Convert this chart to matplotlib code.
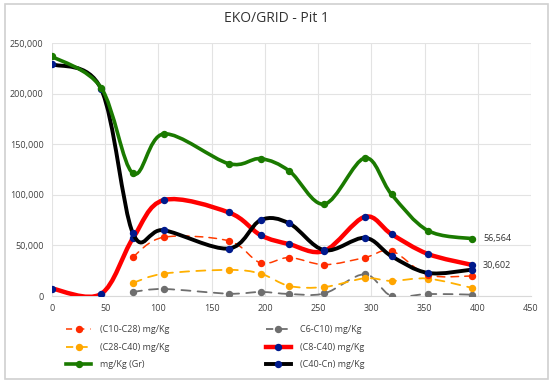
import matplotlib
matplotlib.use("Agg")
import matplotlib.pyplot as plt
from matplotlib.path import Path
from matplotlib.patches import PathPatch, Rectangle
from matplotlib.lines import Line2D
from matplotlib.ticker import FuncFormatter, MultipleLocator
import numpy as np

plt.rcParams['font.family'] = ['Open Sans', 'DejaVu Sans']

# Depth / x positions
x_all = [0, 46, 76, 105, 166, 196, 223, 256, 294, 319, 353, 395]
x_sub = [76, 105, 166, 196, 223, 256, 294, 319, 353, 395]

gr = [236800, 206000, 121200, 160200, 130800, 135700, 123500, 90800, 136400, 100400, 64700, 56564]
c40_cn = [229200, 204800, 62000, 65000, 46900, 75000, 71700, 45200, 57500, 39300, 22800, 26100]
c8_c40 = [7300, 2000, 57000, 94800, 82600, 60100, 51200, 44600, 78300, 61100, 41600, 30602]
c10_c28 = [38600, 58100, 54500, 32700, 38000, 31000, 38000, 44600, 21000, 19800]
c28_c40 = [12900, 22100, 25800, 22100, 9900, 8900, 17500, 14900, 17200, 7900]
c6_c10 = [4000, 6900, 2300, 4000, 2000, 2600, 21500, 0, 2000, 1300]

labels = ["(C10-C28) mg/Kg", "(C28-C40) mg/Kg", "mg/Kg (Gr)",
          "C6-C10) mg/Kg", "(C8-C40) mg/Kg", "(C40-Cn) mg/Kg"]
title = "EKO/GRID - Pit 1"

W, H = 554, 383
fig = plt.figure(figsize=(W / 100, H / 100), dpi=100)
fig.patch.set_facecolor('white')
fig.add_artist(Rectangle((5 / W, 4 / H), 543 / W, 375 / H, transform=fig.transFigure,
                         fill=False, edgecolor='#d0d0d0', linewidth=1.2))

ax = fig.add_axes([52 / W, 1 - 296 / H, (531 - 52) / W, (296 - 43) / H])


def smooth_path(xs, ys):
    pts = np.column_stack([xs, ys]).astype(float)
    n = len(pts)
    verts = [pts[0]]
    codes = [Path.MOVETO]
    for i in range(n - 1):
        p0 = pts[i - 1] if i > 0 else pts[i]
        p1 = pts[i]
        p2 = pts[i + 1]
        p3 = pts[i + 2] if i + 2 < n else pts[i + 1]
        c1 = p1 + (p2 - p0) / 6.0
        c2 = p2 - (p3 - p1) / 6.0
        verts += [c1, c2, p2]
        codes += [Path.CURVE4] * 3
    return Path(verts, codes)


def draw(xs, ys, color, lw, ls, mcolor, ms, z):
    patch = PathPatch(smooth_path(xs, ys), facecolor='none', edgecolor=color,
                      linewidth=lw, linestyle=ls, zorder=z, capstyle='round', joinstyle='round')
    ax.add_patch(patch)
    ax.plot(xs, ys, linestyle='none', marker='o', color=mcolor, markersize=ms, zorder=z + 0.1)


MS = 4.3
navy = '#001a8c'
draw(x_sub, c6_c10, '#6e6e6e', 1.3, (0, (5, 4)), '#6e6e6e', MS, 3)
draw(x_sub, c28_c40, '#ffb000', 1.3, (0, (5, 4)), '#ffa500', MS, 3)
draw(x_sub, c10_c28, '#ff3b00', 1.1, (0, (5, 4)), '#ff2a00', MS, 3)
draw(x_all, c8_c40, '#ff0000', 3.2, '-', navy, MS, 4)
draw(x_all, c40_cn, '#000000', 2.8, '-', navy, MS, 5)
draw(x_all, gr, '#1a7a00', 2.6, '-', '#1a7a00', MS, 6)

ax.text(x_all[-1] + 10, gr[-1], "56,564", fontsize=6.5, va='center', ha='left', color='#333333')
ax.text(x_all[-1] + 10, c8_c40[-1], "30,602", fontsize=6.5, va='center', ha='left', color='#333333')

ax.set_xlim(0, 450)
ax.set_ylim(0, 250000)
ax.xaxis.set_major_locator(MultipleLocator(50))
ax.yaxis.set_major_locator(MultipleLocator(50000))
ax.yaxis.set_major_formatter(FuncFormatter(lambda v, p: f"{int(v):,}"))
ax.grid(True, color='#e3e3e3', linewidth=0.8)
ax.set_axisbelow(True)
for s in ['top', 'right', 'left']:
    ax.spines[s].set_visible(False)
ax.spines['bottom'].set_color('#d9d9d9')
ax.tick_params(length=0, labelsize=6.5, colors='#404040', pad=6)
ax.patch.set_alpha(0)

fig.text(0.5, 1 - 18 / H, title, ha='center', va='center', fontsize=10, color='#333333')

handles = [
    Line2D([], [], color='#ff3b00', lw=1.1, ls=(0, (4, 4)), marker='o', mfc='#ff2a00', mec='#ff2a00', ms=MS),
    Line2D([], [], color='#ffb000', lw=1.3, ls=(0, (4, 4)), marker='o', mfc='#ffa500', mec='#ffa500', ms=MS),
    Line2D([], [], color='#1a7a00', lw=2.6, marker='o', mfc='#1a7a00', mec='#1a7a00', ms=MS),
    Line2D([], [], color='#6e6e6e', lw=1.3, ls=(0, (4, 4)), marker='o', mfc='#6e6e6e', mec='#6e6e6e', ms=MS),
    Line2D([], [], color='#ff0000', lw=3.2, marker='o', mfc=navy, mec=navy, ms=MS),
    Line2D([], [], color='#000000', lw=2.8, marker='o', mfc=navy, mec=navy, ms=MS),
]
fig.legend(handles, labels, ncol=2, loc='upper left', bbox_to_anchor=(58 / W, 1 - 317 / H),
           frameon=False, fontsize=6.5, handlelength=2.8, columnspacing=10.6,
           labelspacing=0.95, handletextpad=1.0, labelcolor='#404040')

fig.savefig("out.png", dpi=100)
